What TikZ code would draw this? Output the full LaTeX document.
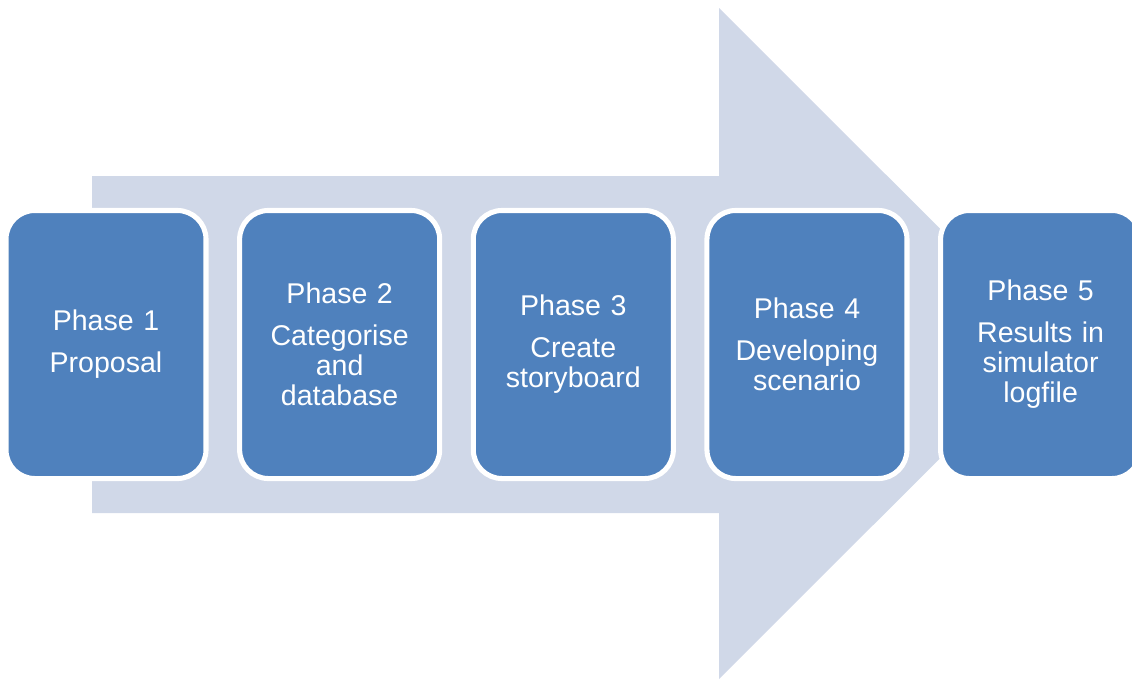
\documentclass[tikz,border=0pt]{standalone}
\usepackage{fontspec}
\setmainfont{Liberation Sans}
\usetikzlibrary{positioning}
\definecolor{phaseblue}{HTML}{4F81BD}
\definecolor{arrowgrey}{HTML}{D0D8E8}
\tikzset{
  phasebox/.style={draw=white,line width=3.6pt,fill=phaseblue,rounded corners=0.72cm,
    outer sep=0pt,minimum width=5cm,minimum height=6.7cm,text width=4.6cm,align=center,
    text=white,font=\fontsize{20.3}{21.3}\selectfont},
  phasegap/.style={node distance=0.84cm}
}
\begin{document}
\begin{tikzpicture}[x=0.025cm,y=-0.025cm]
        \useasboundingbox (0,0) rectangle (1132,680);
        \clip (0,0) rectangle (1132,680);
        % big arrow behind the phases
        \fill[arrowgrey] (92,176)--(719,176)--(719,8)--(1055,343.5)--(719,679)--(719,513)--(92,513)--cycle;
        \node[phasebox] (p1) at (106,344.5) {Phase 1\\[8.5pt]Proposal};
        \node[phasebox,phasegap,right=of p1] (p2) {Phase 2\\[8.5pt]Categorise\\and\\database};
        \node[phasebox,phasegap,right=of p2] (p3) {Phase 3\\[8.5pt]Create\\storyboard};
        \node[phasebox,phasegap,right=of p3] (p4) {Phase 4\\[8.5pt]Developing\\scenario};
        \node[phasebox,phasegap,right=of p4] (p5) {Phase 5\\[8.5pt]Results in\\simulator\\logfile};
    \end{tikzpicture}
\end{document}
